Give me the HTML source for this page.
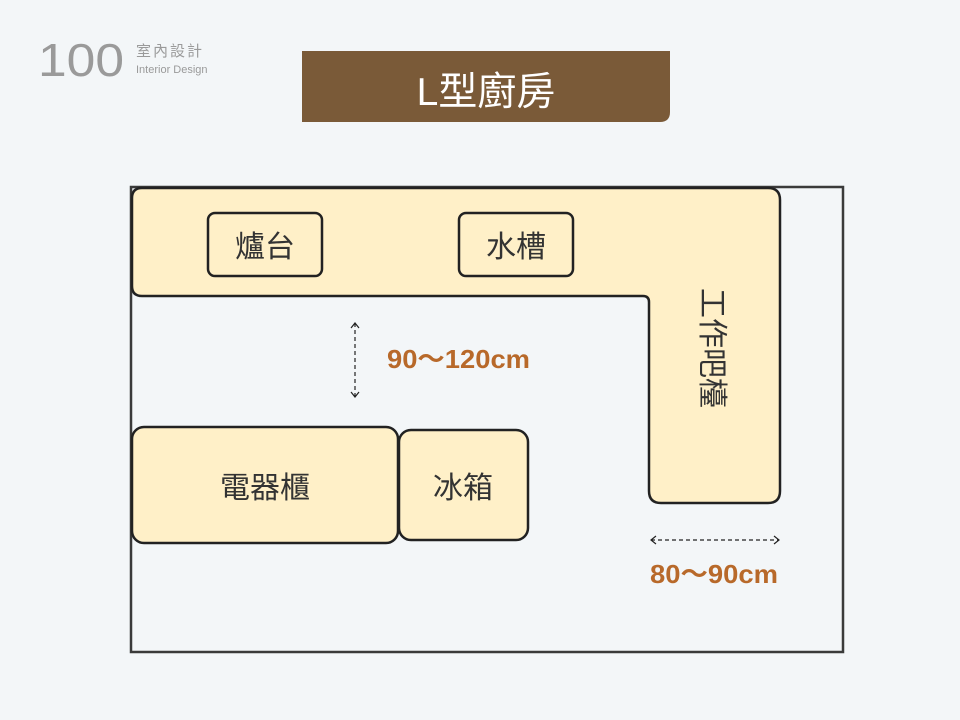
<!DOCTYPE html>
<html><head><meta charset="utf-8"><style>
body{margin:0;background:#f3f6f8;}
svg{display:block;font-family:"Liberation Sans","Noto Sans CJK TC",sans-serif;}
</style></head><body>
<svg width="960" height="720" viewBox="0 0 960 720">
<rect width="960" height="720" fill="#f3f6f8"/>
<text x="38" y="76" font-size="46" fill="#9a9a9a" textLength="86" lengthAdjust="spacingAndGlyphs">100</text>
<text x="136" y="56" font-size="15" fill="#9a9a9a" letter-spacing="2">室內設計</text>
<text x="136" y="73" font-size="11" fill="#9a9a9a">Interior Design</text>
<path d="M302,51 H670 V112 Q670,122 660,122 H302 Z" fill="#7a5a38"/>
<text x="486" y="105" font-size="39" fill="#fff" text-anchor="middle">L型廚房</text>
<rect x="131" y="187" width="712" height="465" fill="none" stroke="#3a3a3a" stroke-width="2.5"/>
<path d="M142,188 H768 Q780,188 780,200 V491 Q780,503 768,503 H661 Q649,503 649,491 V302 Q649,296 643,296 H142 Q132,296 132,286 V198 Q132,188 142,188 Z" fill="#fff0c8" stroke="#222" stroke-width="2.5"/>
<rect x="208" y="213" width="114" height="63" rx="7" fill="#fff0c8" stroke="#222" stroke-width="2.5"/>
<text x="265" y="257" font-size="30" fill="#333" text-anchor="middle">爐台</text>
<rect x="459" y="213" width="114" height="63" rx="7" fill="#fff0c8" stroke="#222" stroke-width="2.5"/>
<text x="516" y="257" font-size="30" fill="#333" text-anchor="middle">水槽</text>
<text transform="translate(702,348) rotate(90)" font-size="30" fill="#333" text-anchor="middle">工作吧檯</text>
<rect x="132" y="427" width="266" height="116" rx="12" fill="#fff0c8" stroke="#222" stroke-width="2.5"/>
<text x="265" y="498" font-size="30" fill="#333" text-anchor="middle">電器櫃</text>
<rect x="399" y="430" width="129" height="110" rx="12" fill="#fff0c8" stroke="#222" stroke-width="2.5"/>
<text x="463" y="498" font-size="30" fill="#333" text-anchor="middle">冰箱</text>
<g stroke="#222" stroke-width="1.2" fill="none">
<line x1="355" y1="323" x2="355" y2="397" stroke-dasharray="4,3"/>
<path d="M351,328 L355,323 L359,328 M351,392 L355,397 L359,392"/>
<line x1="651" y1="540" x2="779" y2="540" stroke-dasharray="4,3"/>
<path d="M656,536 L651,540 L656,544 M774,536 L779,540 L774,544"/>
</g>
<text x="387" y="368" font-size="26" fill="#b8692a" font-weight="bold" textLength="143" lengthAdjust="spacingAndGlyphs">90～120cm</text>
<text x="650" y="583" font-size="26" fill="#b8692a" font-weight="bold" textLength="128" lengthAdjust="spacingAndGlyphs">80～90cm</text>
</svg>
</body></html>
